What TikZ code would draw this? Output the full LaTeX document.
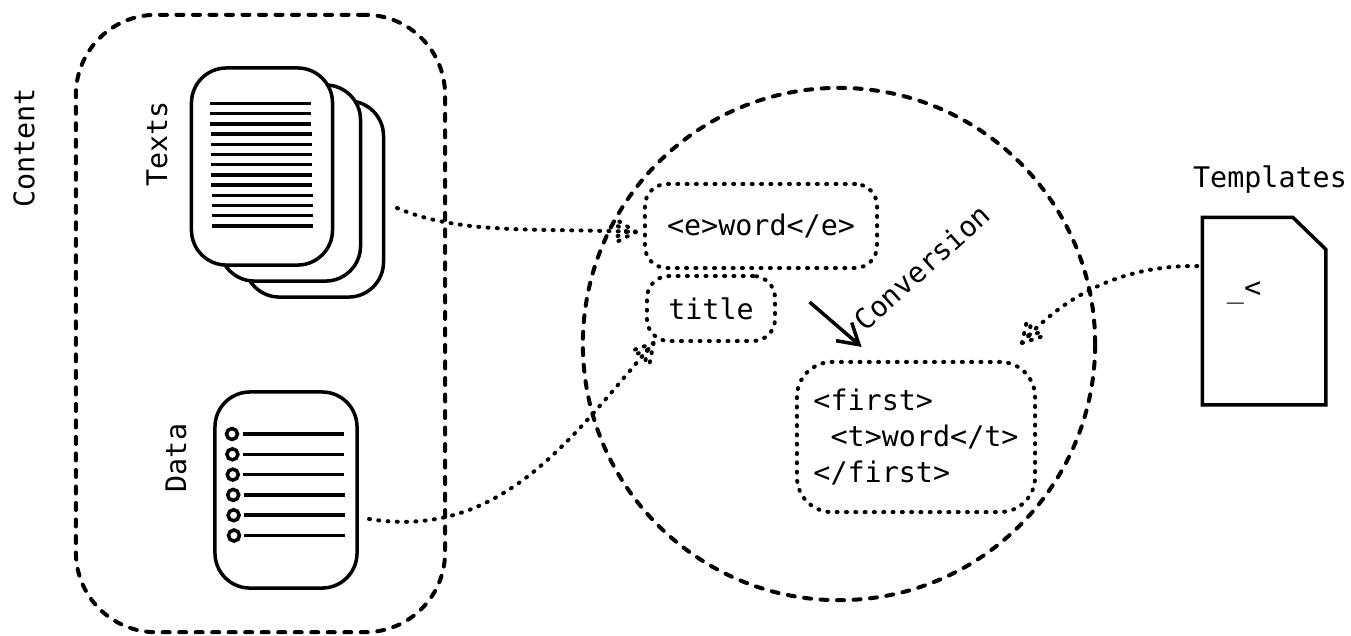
\documentclass[tikz,border=0pt]{standalone}
\usepackage{fontspec}
\setmonofont{DejaVu Sans Mono}
\usetikzlibrary{arrows.meta}

\pgfdeclarearrow{
  name=dotbarb,
  setup code={
    \pgfarrowssettipend{0pt}
    \pgfarrowssetlineend{-1pt}
    \pgfarrowssetvisualbackend{-6pt}
    \pgfarrowssetbackend{-6pt}
    \pgfarrowshullpoint{0pt}{0pt}
    \pgfarrowshullpoint{-6pt}{3.4pt}
    \pgfarrowshullpoint{-6pt}{-3.4pt}
  },
  drawing code={
    \pgfsetroundcap
    \pgfsetlinewidth{0.04cm}
    \pgfsetdash{{0.01cm}{0.083cm}}{0pt}
    \pgfpathmoveto{\pgfpoint{0pt}{0pt}}
    \pgfpathlineto{\pgfpoint{-5.6pt}{3.2pt}}
    \pgfpathmoveto{\pgfpoint{0pt}{0pt}}
    \pgfpathlineto{\pgfpoint{-5.6pt}{-3.2pt}}
    \pgfpathmoveto{\pgfpoint{-2.6pt}{0pt}}
    \pgfpathlineto{\pgfpoint{-6.2pt}{2pt}}
    \pgfpathmoveto{\pgfpoint{-2.6pt}{0pt}}
    \pgfpathlineto{\pgfpoint{-6.2pt}{-2pt}}
    \pgfusepathqstroke
  }
}

\tikzset{
  label text/.style={font=\fontsize{8.07}{10.2}\selectfont\ttfamily},
  solid box/.style={draw,fill=white,line width=0.035cm,rounded corners=0.35cm,inner sep=0pt},
  dash box/.style={draw,line width=0.04cm,line cap=round,dash pattern=on 0.07cm off 0.095cm,inner sep=0pt},
  dot box/.style={draw,line width=0.04cm,line cap=round,dash pattern=on 0.01cm off 0.083cm,rounded corners=0.22cm,inner sep=0pt,label text},
  dot link/.style={line width=0.04cm,line cap=round,dash pattern=on 0.01cm off 0.083cm,-dotbarb},
}

\begin{document}
\begin{tikzpicture}[x=0.01cm,y=-0.01cm]

        \useasboundingbox (0,0) rectangle (1351,635);

        % dashed groups
        \node[dash box,rounded corners=0.8cm,minimum width=3.69cm,minimum height=6.17cm] (content) at (260.5,323.5) {};
        \node[dash box,circle,minimum size=5.12cm] (conversion) at (839,344) {};

        % page stack
        \node[solid box,minimum width=1.39cm,minimum height=1.96cm] (textback)  at (314,199) {};
        \node[solid box,minimum width=1.41cm,minimum height=1.96cm] (textmid)   at (290,183) {};
        \node[solid box,minimum width=1.41cm,minimum height=1.97cm] (textfront) at (262,166.5) {};
        \foreach \i in {0,...,12} {
          \draw[line width=0.035cm] (210+\i*0.17,103.5+\i*10.2) -- (311+\i*0.17,103.5+\i*10.2);
        }

        % list
        \node[solid box,minimum width=1.42cm,minimum height=1.96cm] (data) at (286,490) {};
        \foreach \i in {0,...,5} {
          \node[draw,circle,line width=0.035cm,minimum size=0.11cm,inner sep=0pt] (dot\i) at (232+\i*0.4,434+\i*20.3) {};
          \draw[line width=0.035cm] (243+\i*0.2,434+\i*20.3) -- (344+\i*0.2,434+\i*20.3);
        }

        % template page
        \node[minimum width=1.22cm,minimum height=1.86cm,inner sep=0pt] (template) at (1264,311) {};
        \draw[line width=0.035cm] (template.north west) -- ([xshift=-0.33cm]template.north east)
          -- ([yshift=-0.32cm]template.north east) -- (template.south east) -- (template.south west) -- cycle;

        \begin{scope}[every node/.style={label text}]
          \node[rotate=90] (contentlabel) at (24,148) {Content};
          \node[rotate=90] (textlabel) at (157,144) {Texts};
          \node[rotate=90] (datalabel) at (176,458) {Data};
          \node (templatelabel) at (1270,180) {Templates};
          \node (blank) at (1244,293) {\_<};
          \node[rotate=42] (conversionlabel) at (922,267) {Conversion};
        \end{scope}

        % dotted boxes
        \node[dot box,minimum width=2.32cm,minimum height=0.84cm] (word) at (761,226) {<e>word</e>\hspace{0.1cm}};
        \node[dot box,minimum width=1.28cm,minimum height=0.65cm] (title) at (711,308.5) {title\hspace{0.04cm}};
        \node[dot box,rounded corners=0.35cm,minimum width=2.38cm,minimum height=1.50cm,align=left] (first) at (916,437)
          {<first>\\\hspace{0.171cm}<t>word</t>\\</first>};

        \coordinate (textout) at (397,208);
        \coordinate (dataout) at (369,519);
        \coordinate (firstin) at (1022,343);

        \draw[dot link,shorten >=0.07cm] (textout) .. controls (460,235) and (540,228) .. (word.183);
        \draw[dot link] (dataout) .. controls (500,540) and (570,440) .. (title.211);
        \draw[dot link,shorten <=0.05cm] (template.144) .. controls (1130,265) and (1070,290) .. (firstin);
        \draw[line width=0.035cm,-{Straight Barb[length=0.2cm,width=0.24cm]},shorten <=0.43cm,shorten >=0.2cm] (title.north east) -- (first.117);

      \end{tikzpicture}
\end{document}
